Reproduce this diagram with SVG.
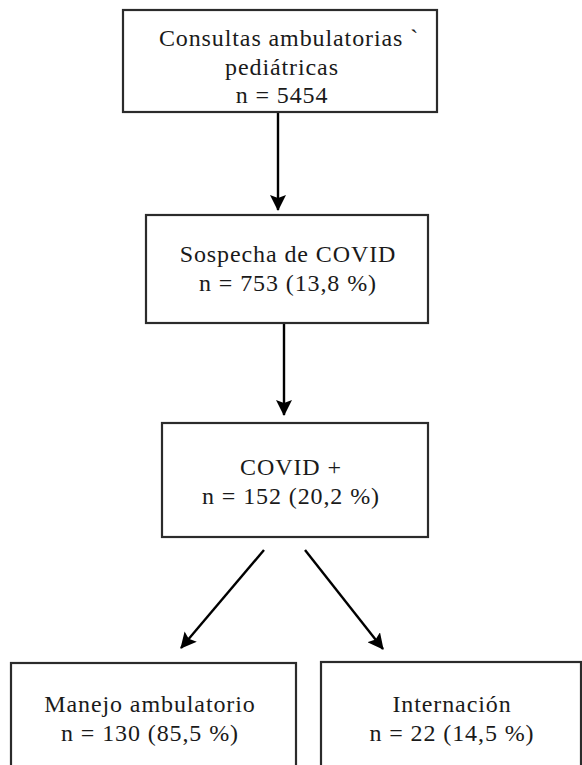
<svg xmlns="http://www.w3.org/2000/svg" width="582" height="765" viewBox="0 0 582 765">
<defs>
<style>
.box{fill:#fff;stroke:#2b2b2b;stroke-width:2.2}
.t{font-family:"Liberation Serif","Times New Roman",serif;font-size:24px;fill:#1a1a1a;text-anchor:middle;letter-spacing:0.9px}
.c{stroke:#000;stroke-width:2.4;fill:none;marker-end:url(#ah)}
</style>
<marker id="ah" markerUnits="userSpaceOnUse" viewBox="0 0 16 16" refX="15" refY="8" markerWidth="16" markerHeight="16" orient="auto">
<path d="M0,0 L16,8 L0,16 L3,8 Z" fill="#000"/>
</marker>
</defs>
<rect width="582" height="765" fill="#fff"/>
<g id="connectors">
<line class="c" x1="278" y1="112" x2="278" y2="210"/>
<line class="c" x1="284" y1="323" x2="284" y2="415"/>
<line class="c" x1="264" y1="550" x2="181" y2="648"/>
<line class="c" x1="305" y1="550" x2="383" y2="649"/>
</g>
<g id="n1">
<rect class="box" x="123" y="10" width="314" height="102"/>
<text class="t" x="289" y="46">Consultas ambulatorias `</text>
<text class="t" x="282" y="74.5">pediátricas</text>
<text class="t" x="282" y="103">n = 5454</text>
</g>
<g id="n2">
<rect class="box" x="146" y="215" width="282" height="108"/>
<text class="t" x="288" y="262">Sospecha de COVID</text>
<text class="t" x="288" y="291">n = 753 (13,8 %)</text>
</g>
<g id="n3">
<rect class="box" x="162" y="423" width="266" height="114"/>
<text class="t" x="291" y="475">COVID +</text>
<text class="t" x="291" y="504">n = 152 (20,2 %)</text>
</g>
<g id="n4">
<rect class="box" x="11" y="663" width="285" height="120"/>
<text class="t" x="150" y="712">Manejo ambulatorio</text>
<text class="t" x="150" y="741">n = 130 (85,5 %)</text>
</g>
<g id="n5">
<rect class="box" x="321" y="662" width="260" height="120"/>
<text class="t" x="452" y="712">Internación</text>
<text class="t" x="452" y="741">n = 22 (14,5 %)</text>
</g>
</svg>
